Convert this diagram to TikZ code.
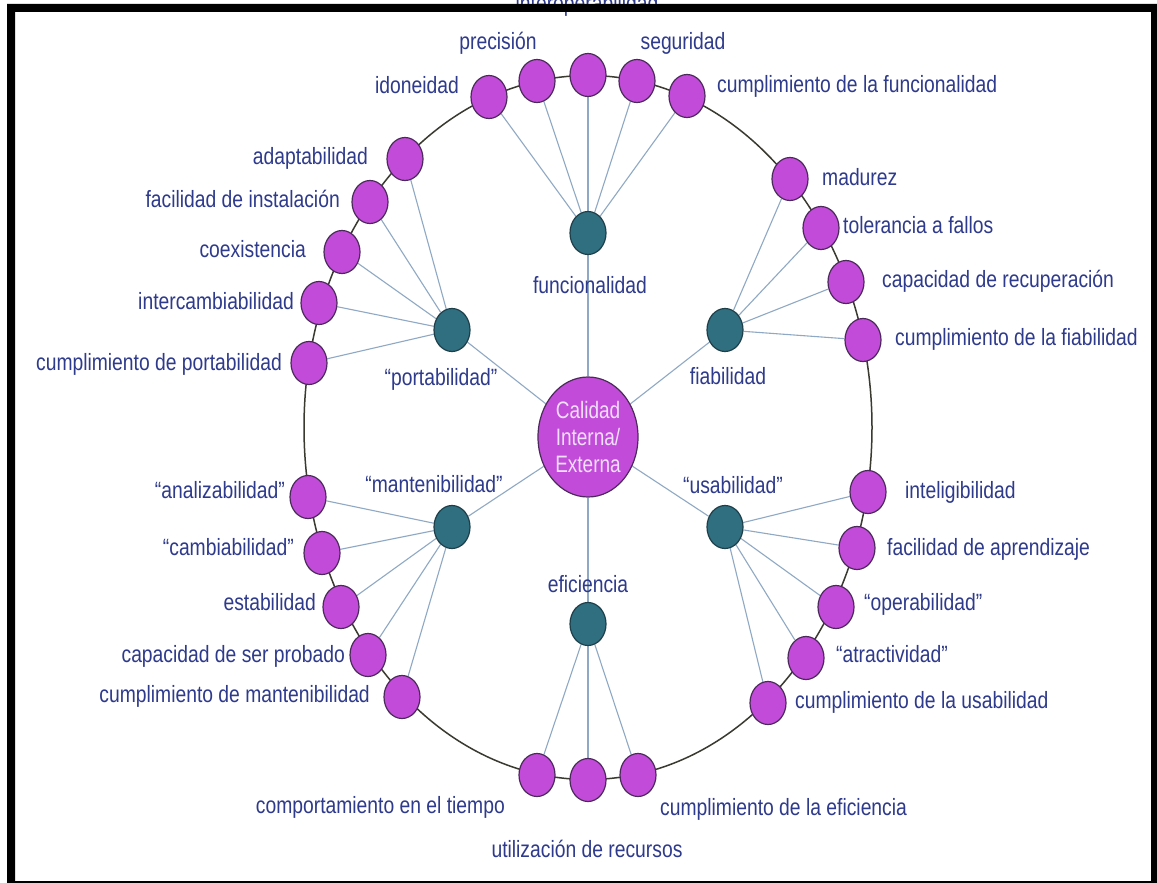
\documentclass[tikz,border=0pt]{standalone}
\usepackage{fontspec}
\setmainfont{Liberation Sans}
\usetikzlibrary{shapes.geometric}
\definecolor{pur}{HTML}{C34BD9}
\definecolor{purd}{HTML}{4A2A5A}
\definecolor{tealn}{HTML}{2F6F80}
\definecolor{teald}{HTML}{1E3F4A}
\definecolor{lblue}{HTML}{2E3A8C}
\definecolor{spokec}{HTML}{8FA9C4}
\definecolor{ringc}{HTML}{3A3A30}
\definecolor{centxt}{HTML}{EEE0F8}
\pgfdeclarelayer{bgl}
\pgfdeclarelayer{lnl}
\pgfsetlayers{bgl,lnl,main}
\tikzset{
  sub/.style={ellipse, draw=purd, line width=1.2pt, fill=pur, minimum width=36pt, minimum height=43pt, inner sep=0pt},
  mid/.style={ellipse, draw=teald, line width=1.2pt, fill=tealn, minimum width=36pt, minimum height=43pt, inner sep=0pt},
  lbl/.style={text=lblue, font=\fontsize{19.3}{21}\selectfont, inner sep=0pt, yscale=1.22, text height=13.8pt, text depth=4pt},
  spk/.style={draw=spokec, line width=1.1pt},
  ringl/.style={draw=ringc, line width=1.5pt}
}
\begin{document}
\begin{tikzpicture}[x=1pt,y=-1pt]
\useasboundingbox (0,0) rectangle (1157,883);
\begin{pgfonlayer}{bgl}
\fill[white] (0,0) rectangle (1157,883);
\end{pgfonlayer}

% central node
\node[ellipse, draw=purd, line width=1.2pt, fill=pur, minimum width=100pt, minimum height=96pt, inner sep=0pt,
      yscale=1.25, align=center, text=centxt, font=\fontsize{19}{21.5}\selectfont] (c) at (588,437) {Calidad\\Interna/\\Externa};

% sub-characteristics (teal)
\node[mid] (fun) at (588,233) {};
\node[mid] (fia) at (725,330) {};
\node[mid] (usa) at (725,527) {};
\node[mid] (efi) at (588,624) {};
\node[mid] (man) at (452,527) {};
\node[mid] (por) at (452,330) {};

% purple nodes
\node[sub] (f1) at (489,97) {};
\node[sub] (f2) at (537,81) {};
\node[sub] (f3) at (588,75) {};
\node[sub] (f4) at (637,81) {};
\node[sub] (f5) at (687,96) {};
\node[sub] (r1) at (790,179) {};
\node[sub] (r2) at (821,228) {};
\node[sub] (r3) at (846,282) {};
\node[sub] (r4) at (863,340) {};
\node[sub] (u1) at (868,492) {};
\node[sub] (u2) at (857,548) {};
\node[sub] (u3) at (836,607) {};
\node[sub] (u4) at (806,658) {};
\node[sub] (u5) at (768,703) {};
\node[sub] (e1) at (537,775) {};
\node[sub] (e2) at (588,780) {};
\node[sub] (e3) at (638,775) {};
\node[sub] (m1) at (308,497) {};
\node[sub] (m2) at (322,553) {};
\node[sub] (m3) at (341,607) {};
\node[sub] (m4) at (368,655) {};
\node[sub] (m5) at (402,697) {};
\node[sub] (p1) at (405,159) {};
\node[sub] (p2) at (370,202) {};
\node[sub] (p3) at (342,252) {};
\node[sub] (p4) at (319,303) {};
\node[sub] (p5) at (309,363) {};

\begin{pgfonlayer}{lnl}
\draw[ringl] (588,427.5) ellipse [x radius=284pt, y radius=352pt];
\foreach \t in {fun,fia,usa,efi,man,por} \draw[spk] (c) -- (\t);
\foreach \s in {f1,f2,f3,f4,f5} \draw[spk] (fun) -- (\s);
\foreach \s in {r1,r2,r3,r4} \draw[spk] (fia) -- (\s);
\foreach \s in {u1,u2,u3,u4,u5} \draw[spk] (usa) -- (\s);
\foreach \s in {e1,e2,e3} \draw[spk] (efi) -- (\s);
\foreach \s in {m1,m2,m3,m4,m5} \draw[spk] (man) -- (\s);
\foreach \s in {p1,p2,p3,p4,p5} \draw[spk] (por) -- (\s);
\end{pgfonlayer}

% labels
\node[lbl] (lf3) at (587,6) {interoperabilidad};
\node[lbl] (lf2) at (498,44) {precisión};
\node[lbl] (lf4) at (683,44) {seguridad};
\node[lbl, anchor=east] (lf1) at (459,88) {idoneidad};
\node[lbl, anchor=west] (lf5) at (717,87) {cumplimiento de la funcionalidad};
\node[lbl, anchor=west] (lr1) at (822,180) {madurez};
\node[lbl, anchor=west] (lr2) at (843,228) {tolerancia a fallos};
\node[lbl, anchor=west] (lr3) at (882,282) {capacidad de recuperación};
\node[lbl, anchor=west] (lr4) at (895,340) {cumplimiento de la fiabilidad};
\node[lbl, anchor=west] (lu1) at (905,493) {inteligibilidad};
\node[lbl, anchor=west] (lu2) at (887,550) {facilidad de aprendizaje};
\node[lbl, anchor=west] (lu3) at (864,605) {“operabilidad”};
\node[lbl, anchor=west] (lu4) at (836,657) {“atractividad”};
\node[lbl, anchor=west] (lu5) at (795,703) {cumplimiento de la usabilidad};
\node[lbl, anchor=west] (le3) at (660,810) {cumplimiento de la eficiencia};
\node[lbl, anchor=east] (le1) at (505,808) {comportamiento en el tiempo};
\node[lbl] (le2) at (587,852) {utilización de recursos};
\node[lbl, anchor=east] (lp1) at (368,159) {adaptabilidad};
\node[lbl, anchor=east] (lp2) at (340,202) {facilidad de instalación};
\node[lbl, anchor=east] (lp3) at (306,252) {coexistencia};
\node[lbl, anchor=east] (lp4) at (294,304) {intercambiabilidad};
\node[lbl, anchor=east] (lp5) at (282,365) {cumplimiento de portabilidad};
\node[lbl, anchor=east] (lm1) at (285,493) {“analizabilidad”};
\node[lbl, anchor=east] (lm2) at (294,550) {“cambiabilidad”};
\node[lbl, anchor=east] (lm3) at (316,605) {estabilidad};
\node[lbl, anchor=east] (lm4) at (345,657) {capacidad de ser probado};
\node[lbl, anchor=east] (lm5) at (370,697) {cumplimiento de mantenibilidad};
\node[lbl] (lfun) at (590,288) {funcionalidad};
\node[lbl] (lfia) at (728,379) {fiabilidad};
\node[lbl] (lusa) at (733,488) {“usabilidad”};
\node[lbl] (lefi) at (588,587) {eficiencia};
\node[lbl] (lman) at (434,487) {“mantenibilidad”};
\node[lbl] (lpor) at (441,380) {“portabilidad”};

% frame
\fill[black, even odd rule] (7,4) rectangle (1157,883) (15,12) rectangle (1151,881);
\end{tikzpicture}
\end{document}
